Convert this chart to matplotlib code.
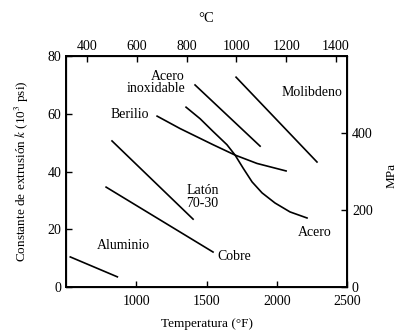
import matplotlib
matplotlib.use("Agg")
import matplotlib.pyplot as plt

plt.rcParams['font.family'] = ['Liberation Serif', 'DejaVu Serif']
plt.rcParams['mathtext.fontset'] = 'stix'

# temperatura (°F) y constante k (10^3 psi)
aluminio_t = [530, 865]
aluminio_k = [10.4, 3.5]

cobre_t = [785, 1546]
cobre_k = [34.6, 12.1]

laton_t = [827, 1404]
laton_k = [50.6, 23.5]

berilio_t = [1148, 1311, 1546, 1703, 1859, 2066]
berilio_k = [59.2, 54.9, 49.3, 45.7, 42.8, 40.2]

inox_t = [1418, 1881]
inox_k = [70.0, 48.8]

acero_t = [1354, 1454, 1546, 1645, 1703, 1760, 1824, 1895, 1987, 2094, 2215]
acero_k = [62.3, 58.3, 53.9, 49.3, 45.7, 41.2, 36.4, 32.6, 29.1, 26.0, 23.9]

molib_t = [1710, 2286]
molib_k = [72.7, 43.3]

x_ticks = [1000, 1500, 2000, 2500]
y_ticks = [0, 20, 40, 60, 80]
c_ticks = [400, 600, 800, 1000, 1200, 1400]
mpa_ticks = [0, 200, 400]

fig = plt.figure(figsize=(3.98, 3.36), dpi=100)
ax = fig.add_axes([0.166, 0.146, 0.706, 0.687])

for t, k in [(aluminio_t, aluminio_k), (cobre_t, cobre_k), (laton_t, laton_k),
             (berilio_t, berilio_k), (inox_t, inox_k), (acero_t, acero_k),
             (molib_t, molib_k)]:
    ax.plot(t, k, color='black', lw=1.2, solid_joinstyle='round')

ax.set_xlim(500, 2500)
ax.set_ylim(0, 80)
ax.set_xticks(x_ticks)
ax.set_yticks(y_ticks)
ax.tick_params(direction='in', length=4, width=1, labelsize=10)
ax.tick_params(axis='x', pad=6)
for s in ax.spines.values():
    s.set_linewidth(1.4)

ax.set_xlabel("Temperatura (°F)", fontsize=9.5, labelpad=7)
ax.set_ylabel("Constante de extrusión $k$ (10$^3$ psi)", fontsize=9.5, labelpad=12)

fs = 10
ax.text(1347, 70.8, "Acero\ninoxidable", ha='right', va='center', multialignment='right',
        fontsize=fs, linespacing=0.95)
ax.text(955, 59.9, "Berilio", ha='center', va='center', fontsize=fs)
ax.text(2251, 67.5, "Molibdeno", ha='center', va='center', fontsize=fs)
ax.text(1354, 31.2, "Latón\n70-30", ha='left', va='center', fontsize=fs, linespacing=0.95)
ax.text(906, 14.2, "Aluminio", ha='center', va='center', fontsize=fs)
ax.text(1696, 10.4, "Cobre", ha='center', va='center', fontsize=fs)
ax.text(2272, 18.7, "Acero", ha='center', va='center', fontsize=fs)

# eje superior en °C
axt = ax.twiny()
axt.set_xlim(316, 1444)
axt.set_xticks(c_ticks)
axt.tick_params(direction='in', length=4, width=1, labelsize=10, pad=2)
axt.set_xlabel("°C", fontsize=10.5, labelpad=13)

# eje derecho en MPa
axr = ax.twinx()
axr.set_ylim(0, 600)
axr.set_yticks(mpa_ticks)
axr.tick_params(direction='in', length=4, width=1, labelsize=10)
fig.text(0.983, 0.479, "MPa", rotation=90, ha='center', va='center', fontsize=9.5)

fig.savefig("out.png", dpi=100)
